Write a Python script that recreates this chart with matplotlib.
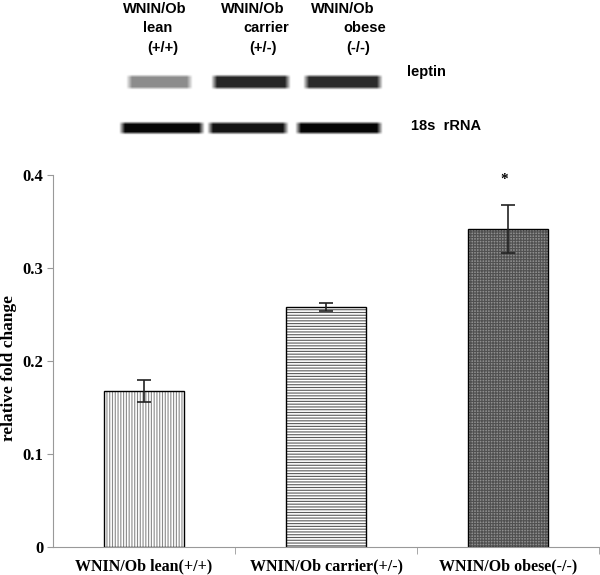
import numpy as np
import matplotlib.pyplot as plt
from matplotlib.colors import to_rgba

# donnees du graphique
groupes = ['WNIN/Ob lean(+/+)', 'WNIN/Ob carrier(+/-)', 'WNIN/Ob obese(-/-)']
valeurs = [0.168, 0.258, 0.342]
erreurs = [0.012, 0.004, 0.026]
significatif = ['', '', '*']

# blot (intensite relative des bandes)
entetes = [('WNIN/Ob', 'lean', '(+/+)'), ('WNIN/Ob', 'carrier', '(+/-)'), ('WNIN/Ob', 'obese', '(-/-)')]
intensite_leptin = [0.45, 0.85, 0.83]
intensite_rrna = [0.97, 0.92, 0.98]

plt.rcParams['hatch.linewidth'] = 0.8
fig = plt.figure(figsize=(6.0, 5.75), dpi=100)

# --- partie blot ---
ax_blot = fig.add_axes([0, 1 - 160 / 575, 1, 160 / 575])
ax_blot.set_xlim(0, 600)
ax_blot.set_ylim(160, 0)
ax_blot.axis('off')

img = np.zeros((160, 600))
xx = np.arange(600)
yy = np.arange(160)


def bande(x0, x1, y0, y1, val):
    px = np.clip(np.minimum(xx - x0, x1 - xx) / 6.0 + 0.4, 0, 1)
    py = np.clip(np.minimum(yy - y0, y1 - yy) / 3.0 + 0.4, 0, 1)
    return val * np.outer(py, px)


pos_leptin = [(128, 190), (213, 288), (305, 380)]
pos_rrna = [(121, 202), (209, 286), (297, 380)]
for (a, b), v in zip(pos_leptin, intensite_leptin):
    img = np.maximum(img, bande(a, b, 75, 88, v))
for (a, b), v in zip(pos_rrna, intensite_rrna):
    img = np.maximum(img, bande(a, b, 122, 133, v))

ax_blot.imshow(1 - img, cmap='gray', vmin=0, vmax=1, extent=(0, 600, 160, 0),
               interpolation='bilinear', aspect='auto')

police_blot = dict(fontsize=10.5, fontweight='bold', family='Liberation Sans')
x_entetes = [(155, 158, 163), (253, 266, 263), (343, 365, 358)]
for (l1, l2, l3), (x1, x2, x3) in zip(entetes, x_entetes):
    ax_blot.text(x1, 9, l1, ha='center', va='center', **police_blot)
    ax_blot.text(x2, 28, l2, ha='center', va='center', **police_blot)
    ax_blot.text(x3, 48, l3, ha='center', va='center', **police_blot)
ax_blot.text(407, 72, 'leptin', ha='left', va='center', **police_blot)
ax_blot.text(411, 126, '18s  rRNA', ha='left', va='center', **police_blot)

# --- partie histogramme ---
ax = fig.add_axes([53 / 600, 28 / 575, 546 / 600, 372 / 575])
x = np.arange(len(groupes))
couleurs = ['white', 'white', '#8e8e8e']
hachures = ['||||||', '------', '++++++']
couleurs_hachures = ['#8a8a8a', '#5a5a5a', '#505050']
barres = ax.bar(x, valeurs, width=0.44, color=couleurs, edgecolor='black', linewidth=1.0,
                yerr=erreurs, capsize=5, error_kw={'elinewidth': 1.2, 'capthick': 1.2, 'ecolor': '#222222'})
for b, h, c in zip(barres, hachures, couleurs_hachures):
    b.set_hatch(h)
    b._hatch_color = to_rgba(c)

for xi, v, e, s in zip(x, valeurs, erreurs, significatif):
    if s:
        ax.text(xi - 0.02, v + e + 0.02, s, ha='center', va='bottom', fontsize=11,
                fontweight='bold', family='Liberation Serif')

ax.set_xlim(-0.5, 2.5)
ax.set_ylim(0, 0.4)
ax.set_yticks([0, 0.1, 0.2, 0.3, 0.4])
ax.set_yticklabels(['0', '0.1', '0.2', '0.3', '0.4'], fontsize=12, fontweight='bold', family='Liberation Serif')
ax.set_xticks(x)
ax.set_xticklabels(groupes, fontsize=11.5, fontweight='bold', family='Liberation Serif')
ax.tick_params(axis='x', length=0, pad=8)
ax.set_xticks([0.5, 1.5, 2.5], minor=True)
ax.tick_params(axis='x', which='minor', length=5, color='#999999')
ax.tick_params(axis='y', length=4, color='#999999', pad=3)
ax.set_ylabel('relative fold change', fontsize=12.5, fontweight='bold', family='Liberation Serif')
ax.yaxis.set_label_coords(-0.066, 0.48)
for cote in ['top', 'right']:
    ax.spines[cote].set_visible(False)
for cote in ['left', 'bottom']:
    ax.spines[cote].set_color('#999999')

fig.savefig('out.png', dpi=100)
